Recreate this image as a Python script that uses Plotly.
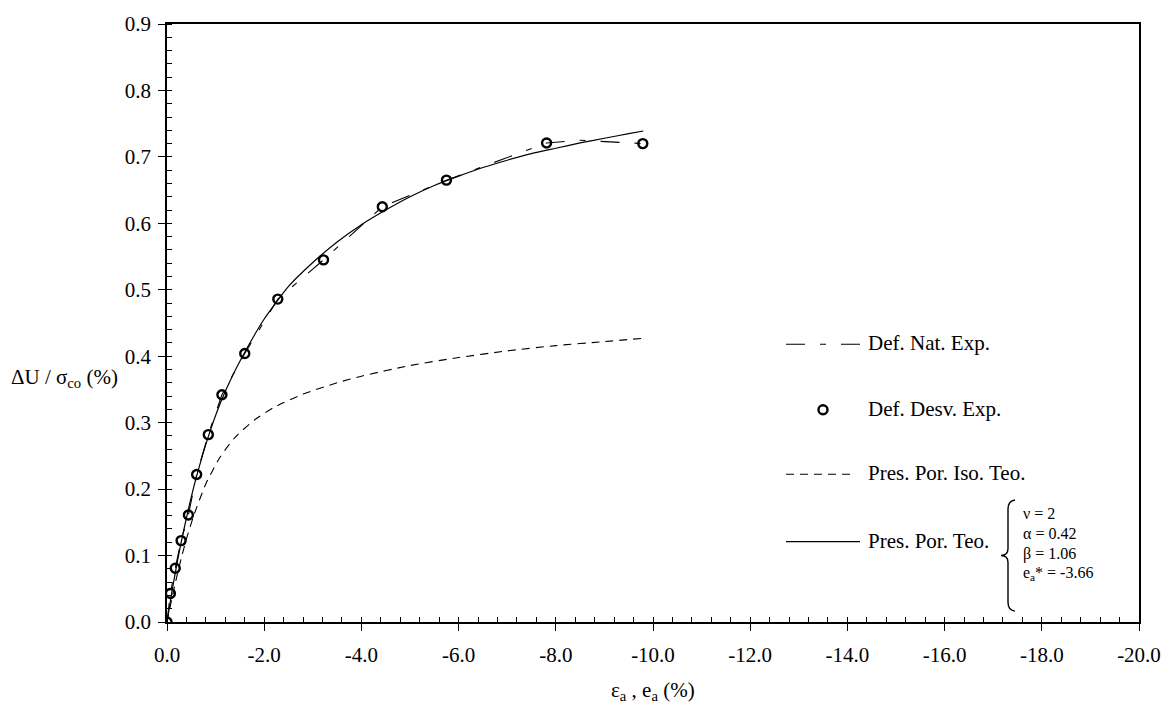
import plotly.graph_objects as go

# ---------------- data ----------------
# Def. Desv. Exp. (open circles)
desv_x = [0.0, -0.07, -0.17, -0.29, -0.44, -0.61, -0.85, -1.13, -1.60, -2.28, -3.22, -4.43, -5.75, -7.81, -9.79]
desv_y = [0.0, 0.043, 0.081, 0.1225, 0.161, 0.222, 0.282, 0.342, 0.404, 0.486, 0.545, 0.625, 0.665, 0.721, 0.720]

# Def. Nat. Exp. (long-short dashed line)
nat_x = [0.0, -0.07, -0.17, -0.29, -0.44, -0.61, -0.85, -1.13, -1.60, -2.28, -3.22, -4.43, -5.75, -7.81, -8.5, -9.79]
nat_y = [0.0, 0.043, 0.081, 0.1225, 0.161, 0.222, 0.282, 0.342, 0.404, 0.486, 0.545, 0.625, 0.665, 0.721, 0.725, 0.720]

# Pres. Por. Teo. (solid line)
teo_x = [0.0, -0.1, -0.2, -0.3, -0.45, -0.6, -0.85, -1.1, -1.35, -1.6, -1.8, -2.0, -2.5, -3.0, -3.5, -4.0, -4.5,
         -5.0, -5.5, -6.0, -6.5, -7.0, -7.5, -8.0, -8.5, -9.0, -9.5, -9.8]
teo_y = [0.0, 0.045, 0.086, 0.123, 0.173, 0.217, 0.279, 0.330, 0.371, 0.406, 0.432, 0.456, 0.505, 0.541, 0.572, 0.598, 0.620,
         0.640, 0.657, 0.671, 0.684, 0.695, 0.705, 0.713, 0.721, 0.728, 0.735, 0.739]

# Pres. Por. Iso. Teo. (short dashed line)
iso_x = [0.0, -0.1, -0.2, -0.3, -0.4, -0.55, -0.8, -1.1, -1.4, -1.8, -2.2, -2.8, -3.5, -4.0,
         -5.0, -6.0, -7.0, -8.0, -9.0, -9.8]
iso_y = [0.0, 0.035, 0.068, 0.098, 0.125, 0.16, 0.208, 0.249, 0.278, 0.304, 0.323, 0.343, 0.36, 0.37,
         0.386, 0.398, 0.408, 0.416, 0.422, 0.427]

x_tick_vals = [0, -2, -4, -6, -8, -10, -12, -14, -16, -18, -20]
x_tick_text = ["0.0", "-2.0", "-4.0", "-6.0", "-8.0", "-10.0", "-12.0", "-14.0", "-16.0", "-18.0", "-20.0"]
y_tick_vals = [0.0, 0.1, 0.2, 0.3, 0.4, 0.5, 0.6, 0.7, 0.8, 0.9]
y_tick_text = ["0.0", "0.1", "0.2", "0.3", "0.4", "0.5", "0.6", "0.7", "0.8", "0.9"]

legend_names = ["Def. Nat. Exp.", "Def. Desv. Exp.", "Pres. Por. Iso. Teo.", "Pres. Por. Teo."]
param_lines = ["ν = 2", "α = 0.42", "β = 1.06", "e<sub>a</sub>* = -3.66"]

# ---------------- layout geometry ----------------
W_FIG, H_FIG = 1174, 709
ML, MR, MT, MB = 167, 35, 19, 87
PW = W_FIG - ML - MR
PH = H_FIG - MT - MB
FONT = '"Liberation Serif", "Times New Roman", Times, serif'


def px_x(px):
    return (px - ML) / PW


def px_y(py):
    return (MT + PH - py) / PH


NAT_DASH = "19px,15px,6px,15px"
ISO_DASH = "8px,6px"

fig = go.Figure()

fig.add_trace(go.Scatter(x=iso_x, y=iso_y, mode="lines", name=legend_names[2],
                         line=dict(color="black", width=1.1, dash=ISO_DASH, shape="spline", smoothing=0.6),
                         showlegend=False))
fig.add_trace(go.Scatter(x=teo_x, y=teo_y, mode="lines", name=legend_names[3],
                         line=dict(color="black", width=1.2, shape="spline", smoothing=0.6), showlegend=False))
fig.add_trace(go.Scatter(x=nat_x, y=nat_y, mode="lines", name=legend_names[0],
                         line=dict(color="black", width=1.1, dash=NAT_DASH), showlegend=False))
fig.add_trace(go.Scatter(x=desv_x, y=desv_y, mode="markers", name=legend_names[1],
                         marker=dict(symbol="circle-open", size=9, color="black",
                                     line=dict(width=2.4, color="black")),
                         showlegend=False))
# empty trace to instantiate overlay axes (used for crossing major ticks)
fig.add_trace(go.Scatter(x=[], y=[], xaxis="x2", yaxis="y2", showlegend=False, hoverinfo="skip"))

axis_common = dict(showgrid=False, zeroline=False, showline=True, linecolor="black", linewidth=1.5,
                   mirror=True, ticks="outside", ticklen=7, tickwidth=1.2, tickcolor="black",
                   tickfont=dict(family=FONT, size=21, color="black"), tickmode="array")

fig.update_layout(
    width=W_FIG, height=H_FIG,
    margin=dict(l=ML, r=MR, t=MT, b=MB),
    paper_bgcolor="white", plot_bgcolor="white",
    font=dict(family=FONT, color="black"),
    xaxis=dict(range=[0, -20], tickvals=x_tick_vals, ticktext=x_tick_text, ticklabelstandoff=6,
               minor=dict(tickmode="linear", tick0=0, dtick=0.4, ticks="inside", ticklen=5,
                          tickwidth=1, tickcolor="black", showgrid=False),
               **axis_common),
    yaxis=dict(range=[0, 0.9], tickvals=y_tick_vals, ticktext=y_tick_text, ticklabelstandoff=3,
               minor=dict(tickmode="linear", tick0=0, dtick=0.02, ticks="inside", ticklen=5,
                          tickwidth=1, tickcolor="black", showgrid=False),
               **axis_common),
    xaxis2=dict(overlaying="x", anchor="y", side="bottom", range=[0, -20], tickmode="array",
                tickvals=x_tick_vals, ticks="inside", ticklen=5, tickwidth=1.2, tickcolor="black",
                showticklabels=False, showline=False, showgrid=False, zeroline=False),
    yaxis2=dict(overlaying="y", anchor="x", side="left", range=[0, 0.9], tickmode="array",
                tickvals=y_tick_vals, ticks="inside", ticklen=5, tickwidth=1.2, tickcolor="black",
                showticklabels=False, showline=False, showgrid=False, zeroline=False),
    showlegend=False,
)

# axis titles
fig.add_annotation(text="ΔU / σ<sub>co</sub> (%)", xref="paper", yref="paper",
                   x=px_x(64), y=px_y(376), xanchor="center", yanchor="middle", showarrow=False,
                   font=dict(family=FONT, size=21, color="black"))
fig.add_annotation(text="ε<sub>a</sub> , e<sub>a</sub> (%)", xref="paper", yref="paper",
                   x=0.5, y=px_y(692), xanchor="center", yanchor="middle", showarrow=False,
                   font=dict(family=FONT, size=21, color="black"))

# custom legend
row_y = [342, 408, 473, 541]
LX0, LX1, TX = 786, 860, 866
fig.add_shape(type="line", xref="paper", yref="paper", x0=px_x(LX0), x1=px_x(LX1),
              y0=px_y(row_y[0]), y1=px_y(row_y[0]), line=dict(color="black", width=1.1, dash=NAT_DASH))
fig.add_shape(type="circle", xref="paper", yref="paper",
              x0=px_x(823 - 4.5), x1=px_x(823 + 4.5), y0=px_y(row_y[1] + 4.5), y1=px_y(row_y[1] - 4.5),
              line=dict(color="black", width=2.4))
fig.add_shape(type="line", xref="paper", yref="paper", x0=px_x(LX0), x1=px_x(LX1 - 4),
              y0=px_y(row_y[2]), y1=px_y(row_y[2]), line=dict(color="black", width=1.1, dash=ISO_DASH))
fig.add_shape(type="line", xref="paper", yref="paper", x0=px_x(LX0), x1=px_x(LX1),
              y0=px_y(row_y[3]), y1=px_y(row_y[3]), line=dict(color="black", width=1.2))
for name, ry in zip(legend_names, row_y):
    fig.add_annotation(text=name, xref="paper", yref="paper", x=px_x(TX), y=px_y(ry - 1),
                       xanchor="left", yanchor="middle", showarrow=False,
                       font=dict(family=FONT, size=21, color="black"))

# parameter brace and text
pts = [(1015, 499), (1008, 500), (1008, 508), (1008, 548), (1008, 555), (1001, 555),
       (1008, 555), (1008, 562), (1008, 602), (1008, 610), (1015, 611)]
P = [(px_x(a), px_y(b)) for a, b in pts]
path = ("M{0[0]},{0[1]} Q{1[0]},{1[1]} {2[0]},{2[1]} L{3[0]},{3[1]} Q{4[0]},{4[1]} {5[0]},{5[1]} "
        "Q{6[0]},{6[1]} {7[0]},{7[1]} L{8[0]},{8[1]} Q{9[0]},{9[1]} {10[0]},{10[1]}").format(*P)
fig.add_shape(type="path", xref="paper", yref="paper", path=path, line=dict(color="black", width=1.4))
for i, t in enumerate(param_lines):
    fig.add_annotation(text=t, xref="paper", yref="paper", x=px_x(1021), y=px_y(513 + 20 * i),
                       xanchor="left", yanchor="middle", showarrow=False,
                       font=dict(family=FONT, size=16, color="black"))

fig.write_html("out.html", config={"displayModeBar": False},
               post_script="document.body.style.margin='0';document.body.style.overflow='hidden';")
